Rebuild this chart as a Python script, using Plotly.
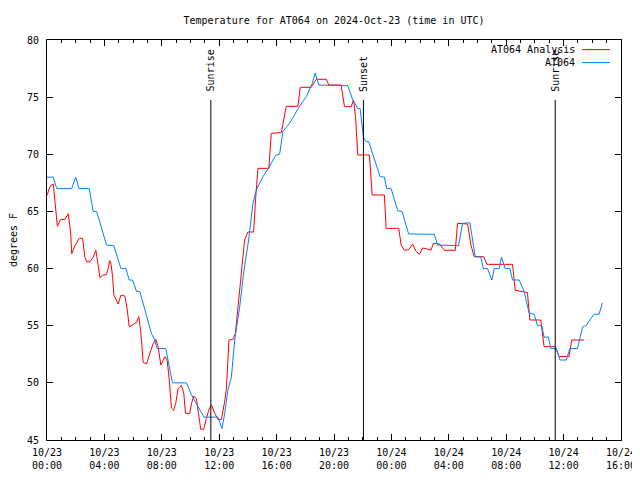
import pandas as pd
import plotly.graph_objects as go

# ---------------- data ----------------
base_time = "2024-10-23 00:00"

# AT064 Analysis (hours after base_time, degrees F)
analysis_hours = [
    0.0, 0.21, 0.44, 0.54, 0.72, 0.95, 1.25, 1.48, 1.65, 1.72,
    1.95, 2.25, 2.48, 2.64, 2.76, 2.99, 3.22, 3.41, 3.57, 3.69,
    3.87, 4.15, 4.26, 4.38, 4.45, 4.57, 4.66, 4.96, 5.15, 5.43,
    5.59, 5.73, 6.00, 6.24, 6.40, 6.54, 6.70, 6.94, 7.17, 7.39,
    7.58, 7.74, 7.93, 8.05, 8.23, 8.37, 8.51, 8.67, 8.83, 8.97,
    9.13, 9.37, 9.53, 9.65, 9.95, 10.07, 10.23, 10.41, 10.55, 10.64,
    10.71, 10.92, 11.11, 11.29, 11.46, 11.69, 11.92, 12.15, 12.38, 12.50,
    12.68, 12.96, 13.13, 13.31, 13.47, 13.66, 13.77, 14.00, 14.40, 14.54,
    14.70, 15.46, 15.63, 16.33, 16.67, 17.48, 17.65, 18.41, 18.76, 19.46,
    19.64, 20.50, 20.73, 21.20, 21.36, 21.50, 21.66, 22.47, 22.66, 23.51,
    23.63, 24.51, 24.68, 24.90, 25.20, 25.48, 25.72, 25.95, 26.18, 26.53,
    26.76, 26.92, 27.34, 27.69, 28.45, 28.61, 29.31, 29.54, 29.77, 30.43,
    30.66, 32.44, 32.63, 33.48, 33.65, 34.41, 34.64, 35.41, 35.69, 36.38,
    36.57, 37.43,
]
analysis_temps = [
    66.4, 67.2, 67.4, 66.0, 63.7, 64.3, 64.3, 64.8, 63.1, 61.3,
    62.0, 62.65, 62.65, 61.0, 60.6, 60.6, 61.0, 61.6, 60.2, 59.2,
    59.4, 59.5, 60.0, 60.7, 60.5, 59.3, 57.7, 56.9, 57.66, 57.6,
    56.4, 54.9, 55.1, 55.3, 55.8, 54.4, 51.8, 51.65, 52.6, 53.4,
    53.8, 53.2, 51.56, 51.9, 52.3, 52.0, 50.4, 47.8, 47.6, 48.2,
    49.5, 49.76, 49.1, 47.33, 47.33, 48.2, 48.85, 48.6, 47.6, 46.6,
    45.94, 45.94, 46.9, 47.7, 48.06, 47.33, 46.8, 46.8, 48.35, 49.5,
    53.75, 53.8, 54.33, 56.67, 58.42, 60.75, 62.5, 63.2, 63.2, 66.15,
    68.77, 68.77, 71.83, 71.9, 74.2, 74.2, 75.86, 75.86, 76.56, 76.56,
    76.06, 76.06, 74.17, 74.17, 74.75, 73.3, 69.94, 69.94, 66.44, 66.44,
    63.52, 63.52, 62.06, 61.6, 61.65, 62.15, 61.5, 61.25, 61.8, 61.7,
    61.6, 62.2, 62.15, 61.6, 61.6, 63.96, 63.9, 62.06, 61.04, 61.04,
    60.37, 60.37, 58.1, 57.9, 55.5, 55.5, 53.17, 53.17, 52.3, 52.3,
    53.75, 53.75,
]

# AT064 observations
obs_hours = [
    0.0, 0.44, 0.67, 1.72, 2.0, 2.23, 2.94, 3.22, 3.46, 4.15,
    4.66, 5.15, 5.5, 5.73, 5.96, 6.24, 6.47, 7.28, 7.51, 7.67,
    8.28, 8.74, 9.72, 10.07, 10.53, 10.94, 11.92, 12.19, 12.38, 12.61,
    12.85, 13.08, 13.43, 13.70, 14.05, 14.35, 14.59, 15.05, 15.44, 15.93,
    16.21, 16.44, 16.90, 17.60, 18.07, 18.48, 18.69, 18.94, 20.96, 21.31,
    21.66, 21.82, 22.05, 22.24, 22.42, 23.21, 23.51, 23.67, 23.98, 24.44,
    24.74, 25.20, 26.99, 27.22, 28.68, 28.96, 29.47, 29.84, 30.24, 30.40,
    30.70, 31.00, 31.17, 31.51, 31.67, 31.93, 32.26, 32.44, 32.90, 33.25,
    33.60, 33.95, 34.18, 34.48, 34.64, 34.94, 35.11, 35.50, 35.74, 36.19,
    36.43, 36.96, 37.33, 37.55, 38.12, 38.47, 38.70,
]
obs_temps = [
    68.0, 68.0, 67.0, 67.0, 68.0, 67.0, 67.0, 65.0, 65.0, 62.06,
    62.0, 60.0, 60.0, 59.0, 59.0, 58.0, 58.0, 54.3, 53.75, 53.0,
    53.0, 50.0, 50.0, 48.95, 47.9, 47.0, 47.0, 46.0, 47.3, 49.4,
    50.5, 53.75, 56.67, 59.6, 62.5, 65.7, 66.9, 68.04, 68.8, 69.9,
    70.0, 72.0, 72.7, 74.2, 75.04, 76.2, 77.1, 76.06, 76.0, 74.75,
    74.0, 74.0, 71.5, 71.1, 71.1, 68.04, 68.0, 67.0, 67.0, 65.07,
    65.0, 63.03, 63.0, 62.06, 62.0, 63.96, 64.0, 61.04, 61.0, 60.0,
    60.0, 59.0, 60.0, 60.0, 61.0, 60.0, 60.0, 59.0, 59.0, 58.0,
    56.1, 56.0, 55.0, 55.0, 54.0, 54.0, 53.0, 53.0, 52.0, 52.0,
    53.0, 53.0, 54.9, 55.0, 56.0, 56.0, 57.0,
]

series_names = ["AT064 Analysis", "AT064"]
series_colors = ["#ff0000", "#0080ff"]

event_names = ["Sunrise", "Sunset", "Sunrise"]
event_times = ["2024-10-23 11:25", "2024-10-23 22:03", "2024-10-24 11:25"]

tick_times = ["2024-10-23 00:00", "2024-10-23 04:00", "2024-10-23 08:00",
              "2024-10-23 12:00", "2024-10-23 16:00", "2024-10-23 20:00",
              "2024-10-24 00:00", "2024-10-24 04:00", "2024-10-24 08:00",
              "2024-10-24 12:00", "2024-10-24 16:00"]
tick_labels = ["10/23<br>00:00", "10/23<br>04:00", "10/23<br>08:00",
               "10/23<br>12:00", "10/23<br>16:00", "10/23<br>20:00",
               "10/24<br>00:00", "10/24<br>04:00", "10/24<br>08:00",
               "10/24<br>12:00", "10/24<br>16:00"]

y_range = [45, 80]
title_text = "Temperature for AT064 on 2024-Oct-23 (time in UTC)"
y_title = "degrees F"

# ---------------- figure ----------------
t0 = pd.Timestamp(base_time)


def to_times(hours):
    return [t0 + pd.Timedelta(hours=h) for h in hours]


FONT = "DejaVu Sans Mono"
# the page body adds an 8px offset; the figure is sized to fill the rest
W, H = 632, 472

fig = go.Figure()
fig.add_trace(go.Scatter(x=to_times(analysis_hours), y=analysis_temps, mode="lines",
                         name=series_names[0], line=dict(color=series_colors[0], width=1),
                         showlegend=False))
fig.add_trace(go.Scatter(x=to_times(obs_hours), y=obs_temps, mode="lines",
                         name=series_names[1], line=dict(color=series_colors[1], width=1),
                         showlegend=False))

shapes = []
annotations = []
for name, t in zip(event_names, event_times):
    shapes.append(dict(type="line", xref="x", yref="paper", x0=t, x1=t, y0=0, y1=0.85,
                       line=dict(color="black", width=1)))
    annotations.append(dict(text=name, x=t, xref="x", y=0.866, yref="paper",
                            textangle=-90, xanchor="center", yanchor="bottom",
                            showarrow=False, font=dict(size=10, family=FONT, color="black")))

# gnuplot-style key: text right-aligned, sample line to its right
for i, (nm, col) in enumerate(zip(series_names, series_colors)):
    ypos = 0.976 - i * 0.0325
    annotations.append(dict(text=nm, x=0.9235, xref="paper", y=ypos, yref="paper",
                            xanchor="right", yanchor="middle", showarrow=False,
                            font=dict(size=10, family=FONT, color="black")))
    shapes.append(dict(type="line", xref="paper", yref="paper", x0=0.932, x1=0.981,
                       y0=ypos, y1=ypos, line=dict(color=col, width=1)))

fig.update_layout(
    width=W, height=H,
    margin=dict(l=39, r=19, t=32, b=40),
    plot_bgcolor="white", paper_bgcolor="white",
    font=dict(family=FONT, size=10, color="black"),
    title=dict(text=title_text, x=0.5, xref="paper", xanchor="center",
               y=1 - 12 / H, yref="container", yanchor="middle",
               font=dict(family=FONT, size=10, color="black")),
    shapes=shapes, annotations=annotations,
    showlegend=False,
)
fig.update_xaxes(
    type="date", range=[t0, t0 + pd.Timedelta(hours=40)],
    tickvals=tick_times, ticktext=tick_labels,
    ticks="inside", ticklen=6, tickwidth=1, tickcolor="black",
    showline=True, linecolor="black", linewidth=1, mirror="allticks",
    showgrid=False, zeroline=False, ticklabelstandoff=3,
    minor=dict(dtick=3600000, tick0=base_time, ticks="inside", ticklen=3,
               tickwidth=1, tickcolor="black", showgrid=False),
    automargin=False,
)
fig.update_yaxes(
    range=y_range, dtick=5, tick0=45,
    ticks="inside", ticklen=6, tickwidth=1, tickcolor="black",
    showline=True, linecolor="black", linewidth=1, mirror="allticks",
    showgrid=False, zeroline=False, ticklabelstandoff=5,
    title=dict(text=y_title, standoff=10, font=dict(family=FONT, size=10)),
    automargin=False,
)

fig.write_html("out.html")
